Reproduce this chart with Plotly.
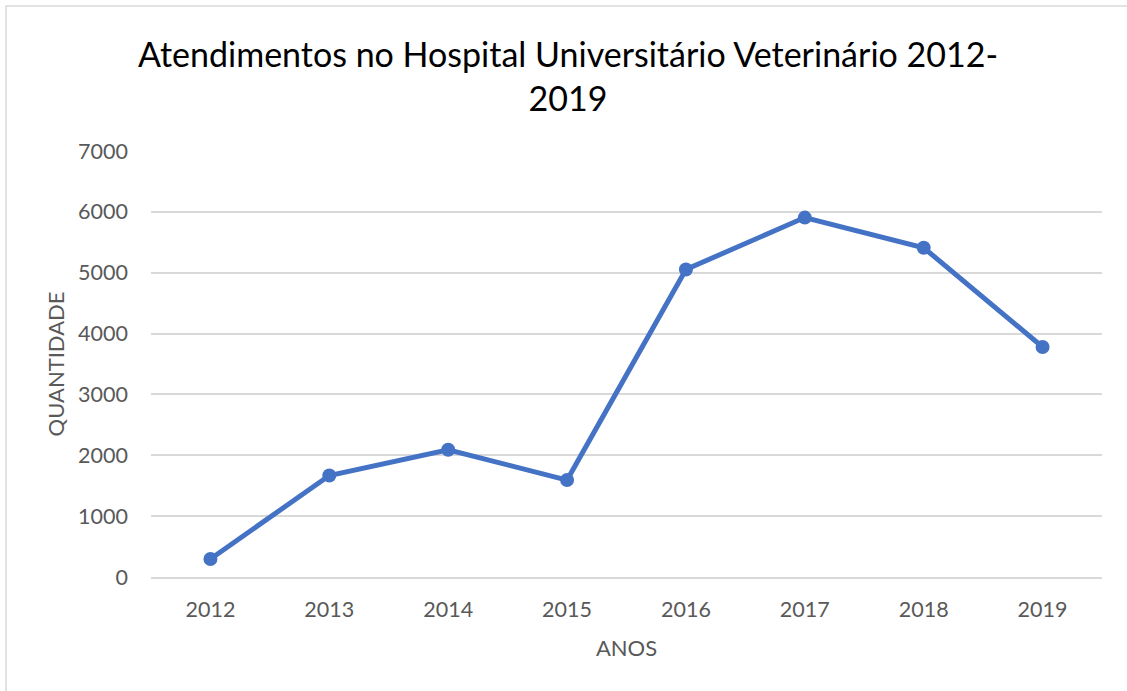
import plotly.graph_objects as go

anos = ["2012", "2013", "2014", "2015", "2016", "2017", "2018", "2019"]
atendimentos = [295, 1668, 2090, 1593, 5054, 5906, 5410, 3780]
y_ticks = [0, 1000, 2000, 3000, 4000, 5000, 6000, 7000]

title_text = "Atendimentos no Hospital Universitário Veterinário 2012-<br>2019"
font_family = "Lato, 'Open Sans', sans-serif"

W, H = 1127, 691
L, R, T, B = 151, 25, 151, 114
pw, ph = W - L - R, H - T - B

fig = go.Figure()
fig.add_trace(go.Scatter(
    x=anos, y=atendimentos, mode="lines+markers",
    line=dict(color="#4472C4", width=5),
    marker=dict(color="#4472C4", size=14),
    showlegend=False,
))

fig.update_layout(
    width=W, height=H,
    margin=dict(l=L, r=R, t=T, b=B),
    paper_bgcolor="white", plot_bgcolor="white",
    font=dict(family=font_family, color="#595959"),
    title=dict(text=title_text, xref="container", x=568 / W, xanchor="center",
               yref="container", y=1 - 67 / H, yanchor="top",
               font=dict(size=34, color="#000000", family=font_family)),
    xaxis=dict(type="category", range=[-0.5, 7.5], showgrid=False,
               showline=True, linecolor="#d9d9d9", linewidth=1.5,
               ticks="", ticklabelstandoff=12,
               tickfont=dict(size=21.5, color="#595959"),
               title=dict(text="ANOS", font=dict(size=22, color="#595959"), standoff=20)),
    yaxis=dict(range=[0, 7000], tickvals=y_ticks, showgrid=True,
               gridcolor="#d9d9d9", gridwidth=1.5, zeroline=False,
               showline=False, ticks="", ticklabelstandoff=22,
               tickfont=dict(size=21.5, color="#595959"),
               title=dict(text="QUANTIDADE", font=dict(size=22, color="#595959"), standoff=7)),
    shapes=[dict(type="rect", xref="paper", yref="paper",
                 x0=(6 - L) / pw, x1=(W + 5 - L) / pw,
                 y0=-(H + 5 - (H - B)) / ph, y1=1 + (T - 6) / ph,
                 line=dict(color="#d9d9d9", width=1.5), layer="below")],
)

fig.write_html("out.html", config={"displayModeBar": False},
               post_script="document.body.style.margin='0px';document.body.style.overflow='hidden';")
